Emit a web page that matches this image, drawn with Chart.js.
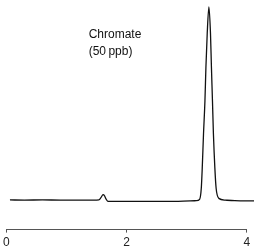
<!DOCTYPE html>
<html>
<head>
<meta charset="utf-8">
<script src="https://cdn.jsdelivr.net/npm/chart.js@4/dist/chart.umd.min.js"></script>
<style>
  html, body { margin: 0; padding: 0; background: #fff; }
  #wrap { width: 256px; height: 250px; }
</style>
</head>
<body>
<div id="wrap"><canvas id="chromChart"></canvas></div>
<script>
// retention time (min) and detector signal (% of peak)
let tempi = [0.06, 0.3, 0.6, 0.9, 1.2, 1.45, 1.54, 1.576, 1.609, 1.634, 1.658, 1.69, 1.77, 2.0, 2.4, 2.8, 3.06, 3.16, 3.215, 3.243, 3.259, 3.28, 3.304, 3.32, 3.342, 3.37, 3.396, 3.412, 3.429, 3.445, 3.469, 3.49, 3.534, 3.64, 3.8, 4.0, 4.12];
let segnale = [0.4, 0.3, 0.4, 0.3, 0.3, 0.3, 0.4, 1.7, 3.1, 2.5, 0.9, -0.3, -0.4, -0.4, -0.3, -0.3, -0.1, 0.0, 0.7, 6.4, 16.8, 34.4, 51.6, 68.7, 86.4, 100, 86.4, 68.7, 51.6, 34.4, 16.8, 6.4, 1.2, 0.3, 0.0, -0.1, -0.1];
let tickX = [0, 2, 4];
let etichetta = ["Chromate", "(50\u2009ppb)"];

let punti = tempi.map((t, i) => ({ x: t, y: segnale[i] }));

// axis line only between first and last tick, like the original
const assePlugin = {
    id: "asse",
    afterDraw(chart) {
        const ctx = chart.ctx;
        const sx = chart.scales.x;
        const y = Math.round(sx.top) + 0.5;
        ctx.save();
        ctx.strokeStyle = "#555";
        ctx.lineWidth = 1;
        ctx.beginPath();
        ctx.moveTo(sx.getPixelForValue(tickX[0]), y);
        ctx.lineTo(sx.getPixelForValue(tickX[tickX.length - 1]), y);
        ctx.stroke();

        ctx.fillStyle = "#111";
        ctx.font = "12px 'Liberation Sans', Arial, sans-serif";
        ctx.textBaseline = "middle";
        ctx.textAlign = "left";
        const tx = sx.getPixelForValue(1.37);
        ctx.fillText(etichetta[0], tx, 35);
        ctx.fillText(etichetta[1], tx, 52);
        ctx.restore();
    }
};

var ctx = document.getElementById("chromChart").getContext("2d");

var chromChart = new Chart(ctx, {
    type: "line",
    data: {
        datasets: [{
            data: punti,
            borderColor: "#111",
            borderWidth: 1.3,
            pointRadius: 0,
            fill: false,
            cubicInterpolationMode: "monotone",
        }, ],
    },
    options: {
        responsive: true,
        maintainAspectRatio: false,
        animation: false,
        layout: { padding: { left: 4, right: 2, top: 5, bottom: -3 } },
        plugins: { legend: { display: false }, tooltip: { enabled: false } },
        scales: {
            x: {
                type: "linear",
                min: 0,
                max: 4.12,
                afterBuildTicks: (scale) => {
                    scale.ticks = tickX.map((v) => ({ value: v }));
                },
                grid: {
                    display: true,
                    drawOnChartArea: false,
                    drawTicks: true,
                    tickLength: 4,
                    color: "#555",
                },
                border: { display: false },
                ticks: {
                    color: "#222",
                    padding: 3,
                    maxRotation: 0,
                    font: { family: "'Liberation Sans', Arial, sans-serif", size: 12 },
                },
            },
            y: {
                display: false,
                min: -14.4,
                max: 101,
            },
        },
    },
    plugins: [assePlugin],
});
</script>
</body>
</html>
